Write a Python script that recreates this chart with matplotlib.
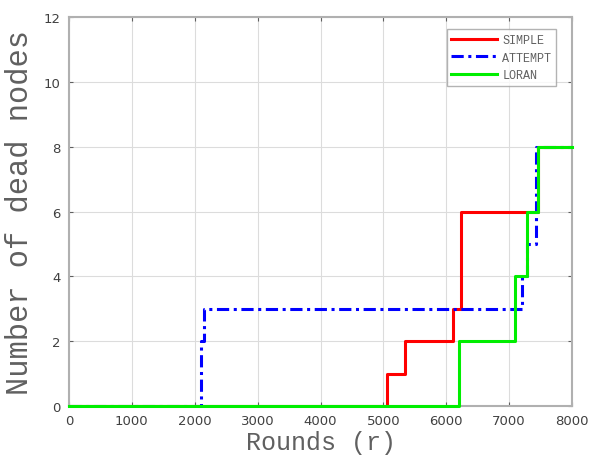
import matplotlib
matplotlib.use("Agg")
import matplotlib.pyplot as plt

# Data (step curves: rounds at which the count changes, and the count after)
simple_x = [0, 5050, 5350, 6100, 6230, 7460, 8000]
simple_y = [0, 1, 2, 3, 6, 8, 8]

attempt_x = [0, 2100, 2150, 7200, 7290, 7430, 8000]
attempt_y = [0, 2, 3, 4, 5, 8, 8]

loran_x = [0, 6200, 7100, 7280, 7460, 8000]
loran_y = [0, 2, 4, 6, 8, 8]

series_names = ["SIMPLE", "ATTEMPT", "LORAN"]
x_ticks = [0, 1000, 2000, 3000, 4000, 5000, 6000, 7000, 8000]
y_ticks = [0, 2, 4, 6, 8, 10, 12]

fig = plt.figure(figsize=(5.91, 4.60), dpi=100)
ax = fig.add_axes([69/591, 1-407/460, (572-69)/591, (407-18)/460])

ax.plot(simple_x, simple_y, drawstyle="steps-post", color="#ff0000", lw=2.2,
        label=series_names[0], zorder=3)
ax.plot(attempt_x, attempt_y, drawstyle="steps-post", color="#0000ff", lw=2.2,
        ls=(0, (4, 1.5, 1, 1.5)), label=series_names[1], zorder=3)
ax.plot(loran_x, loran_y, drawstyle="steps-post", color="#00ee00", lw=2.2,
        label=series_names[2], zorder=4, clip_on=False)

ax.set_xlim(0, 8000)
ax.set_ylim(0, 12)
ax.set_xticks(x_ticks)
ax.set_yticks(y_ticks)
ax.grid(True, color="#dcdcdc", lw=0.8)
ax.set_axisbelow(True)

for s in ax.spines.values():
    s.set_color("#b0b0b0")
    s.set_linewidth(1.5)

ax.tick_params(direction="in", length=3, color="#606060", labelsize=9.5,
               labelcolor="#404040", pad=6, top=True, right=True)
for lab in ax.get_xticklabels() + ax.get_yticklabels():
    lab.set_family("DejaVu Sans")

ax.set_xlabel("Rounds (r)", family="Liberation Mono", fontsize=18,
              color="#606060", labelpad=2)
ax.set_ylabel("Number of dead nodes", family="Liberation Mono", fontsize=22,
              color="#606060", labelpad=6)

leg = ax.legend(loc="upper right", bbox_to_anchor=(0.975, 0.977),
                prop={"family": "Liberation Mono", "size": 8.5},
                frameon=True, fancybox=False, handlelength=3.9,
                borderpad=0.4, labelspacing=0.45, handletextpad=0.4,
                borderaxespad=0.3)
leg.get_frame().set_edgecolor("#a0a0a0")
leg.get_frame().set_linewidth(1.0)
for t in leg.get_texts():
    t.set_color("#606060")

fig.savefig("out.png", dpi=100)
